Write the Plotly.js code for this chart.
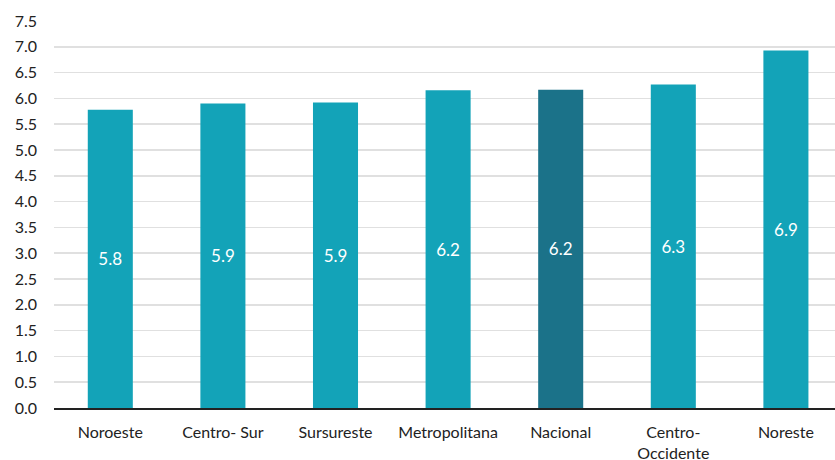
<!DOCTYPE html>
<html>
<head>
<meta charset="utf-8">
<script src="https://cdn.plot.ly/plotly-3.0.1.min.js"></script>
<style>html,body{margin:0;padding:0;background:#fff;}#chart{width:835px;height:460px;}</style>
</head>
<body>
<div id="chart"></div>
<script>
const categories = ["Noroeste", "Centro- Sur", "Sursureste", "Metropolitana", "Nacional", "Centro-<br>Occidente", "Noreste"];
const values = [5.78, 5.90, 5.92, 6.16, 6.17, 6.27, 6.93];
const labels = ["5.8", "5.9", "5.9", "6.2", "6.2", "6.3", "6.9"];
const barColor = "#13A3B8";
const highlightColor = "#1B7289";
const highlight = "Nacional";

const colors = categories.map(c => c === highlight ? highlightColor : barColor);

const trace = {
  type: "bar",
  x: categories,
  y: values,
  text: labels,
  textposition: "inside",
  insidetextanchor: "middle",
  textangle: 0,
  texttemplate: "%{text}",
  textfont: {family: "Lato, sans-serif", size: 17, color: "#ffffff"},
  marker: {color: colors, line: {width: 0}},
  width: 0.4,
  hoverinfo: "none"
};

const layout = {
  width: 835,
  height: 460,
  margin: {l: 54, r: 0, t: 21, b: 52},
  paper_bgcolor: "#ffffff",
  plot_bgcolor: "#ffffff",
  showlegend: false,
  font: {family: "Lato, sans-serif", size: 16, color: "#222222"},
  xaxis: {
    type: "category",
    range: [-0.5, 6.436],
    showgrid: false,
    showline: true,
    linecolor: "#222222",
    linewidth: 1.5,
    ticks: "",
    ticklabelstandoff: 9,
    tickfont: {size: 16, color: "#222222"},
    fixedrange: true
  },
  yaxis: {
    range: [0, 7.5],
    dtick: 0.5,
    tick0: 0,
    tickformat: ".1f",
    showgrid: true,
    gridcolor: "#e0e0e0",
    gridwidth: 1.5,
    zeroline: false,
    showline: false,
    ticks: "",
    ticklabelstandoff: 16,
    tickfont: {size: 16, color: "#222222"},
    fixedrange: true
  }
};

Plotly.newPlot("chart", [trace], layout, {displayModeBar: false, staticPlot: true});
</script>
</body>
</html>
